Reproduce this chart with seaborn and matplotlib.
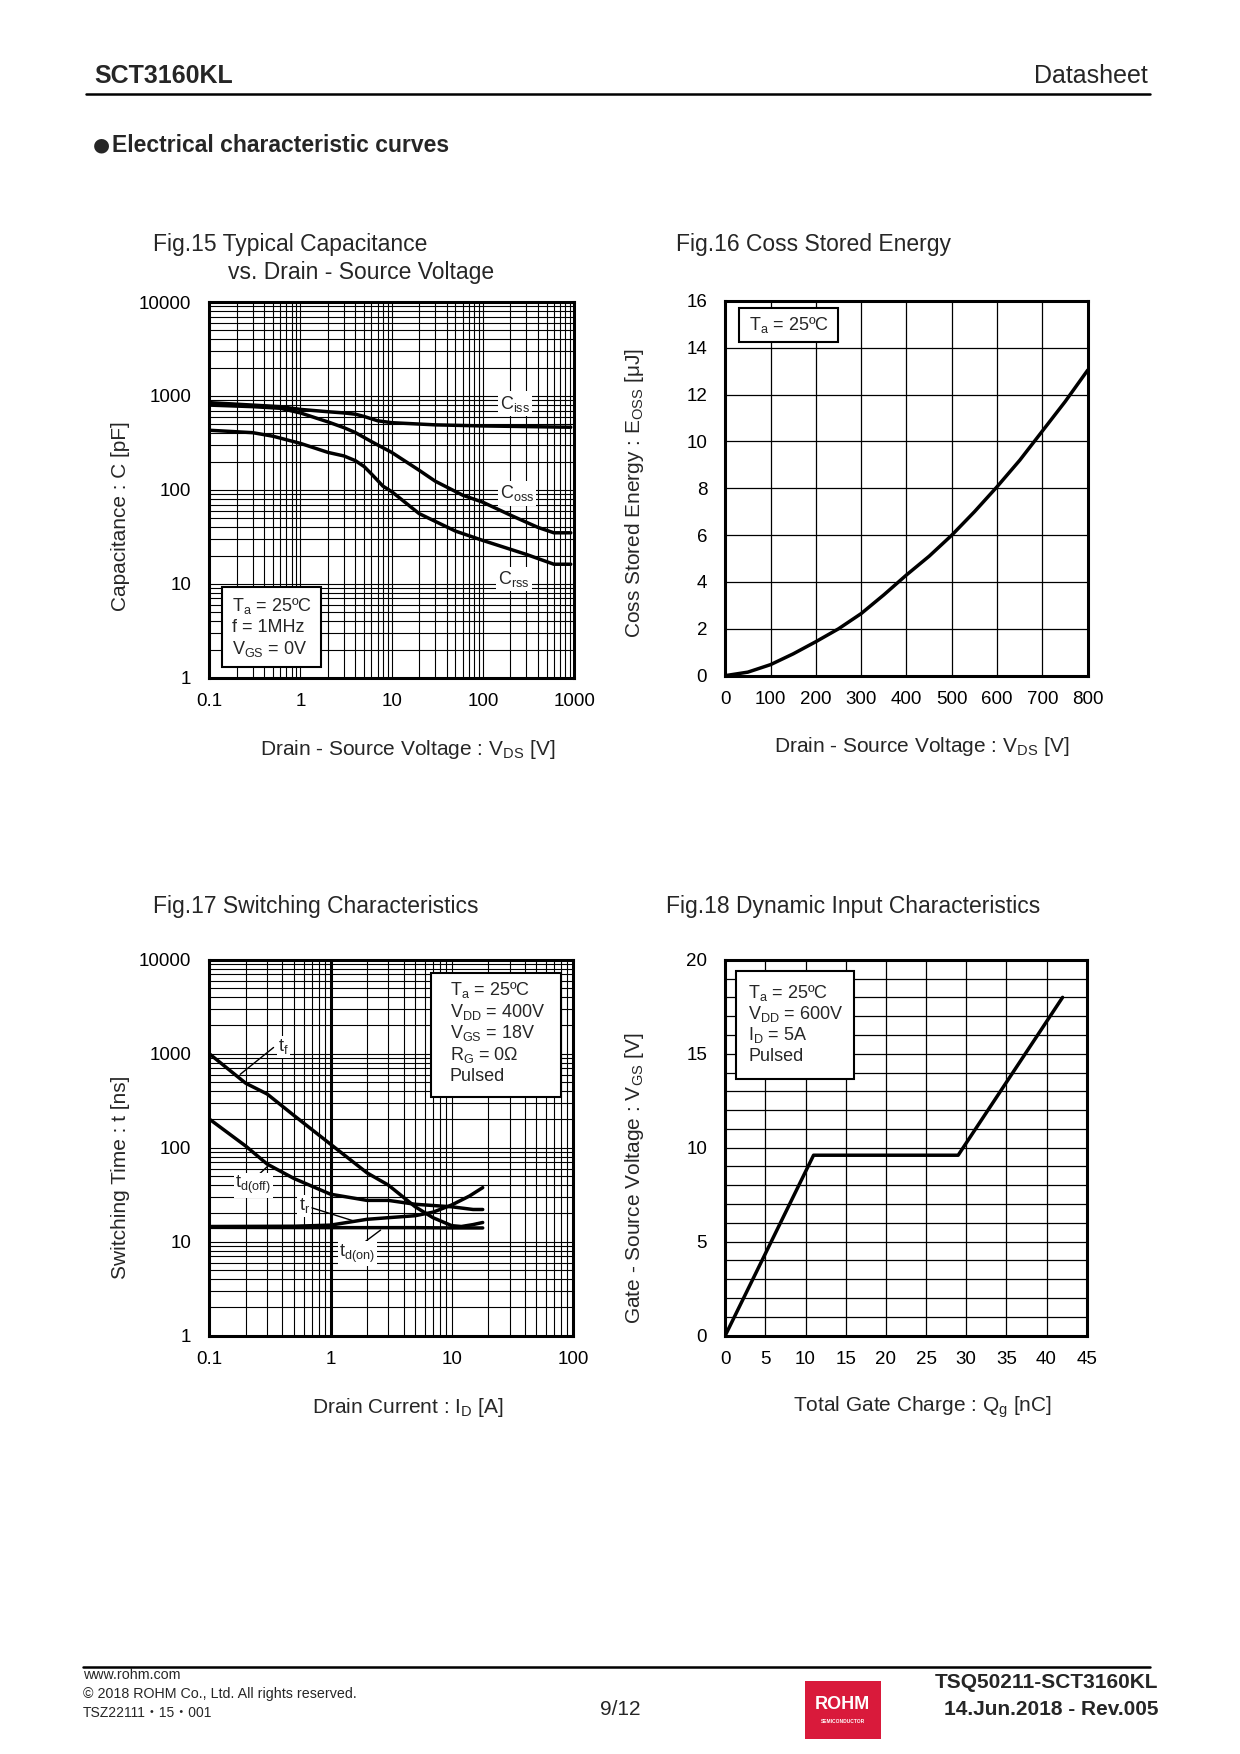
import numpy as np
import matplotlib
matplotlib.use("Agg")
import matplotlib.pyplot as plt
import seaborn as sns
from matplotlib.patches import Rectangle
from matplotlib.lines import Line2D
from matplotlib.ticker import FixedLocator, LogLocator, FuncFormatter, MultipleLocator, NullFormatter

### Data

# Fig.15 capacitance vs VDS
ciss_v = [0.1, 0.3, 0.6, 1, 2, 3, 4, 5, 7, 10, 30, 100, 920]
ciss_c = [850, 800, 770, 720, 680, 660, 640, 605, 545, 520, 493, 480, 465]
coss_v = [0.1, 0.3, 0.6, 1, 2, 3, 4, 6, 10, 20, 30, 60, 100, 200, 400, 600, 920]
coss_c = [800, 770, 740, 660, 530, 460, 408, 327, 251, 162, 124, 88, 74, 54, 40, 35, 35]
crss_v = [0.1, 0.3, 0.5, 1, 2, 3, 4, 5, 6, 8, 10, 20, 50, 100, 300, 600, 920]
crss_c = [432, 407, 373, 313, 251, 230, 205, 177, 148, 110, 96, 56, 36.5, 29, 20.6, 16.2, 16.2]

# Fig.16 Eoss vs VDS
eoss_v = [0, 50, 100, 150, 200, 250, 300, 350, 400, 450, 500, 550, 600, 650, 700, 750, 800]
eoss_uj = [0, 0.15, 0.47, 0.93, 1.45, 2.0, 2.65, 3.45, 4.3, 5.1, 6.0, 7.0, 8.07, 9.2, 10.45, 11.7, 13.05]

# Fig.17 switching times vs ID
tf_id = [0.1, 0.2, 0.3, 0.5, 1, 2, 3, 5, 7, 10, 12, 15, 18]
tf_ns = [1000, 485, 373, 220, 109, 54, 40, 23.5, 18, 14.8, 14.5, 15.2, 16]
tdoff_id = [0.1, 0.2, 0.3, 0.5, 1, 2, 3, 5, 10, 15, 18]
tdoff_ns = [202, 104, 67, 47, 32, 27.5, 27.5, 25, 23.5, 22, 22]
tr_id = [0.1, 0.5, 1, 2, 3, 5, 7, 10, 14, 18]
tr_ns = [14.5, 14.6, 15, 17.3, 18, 18.9, 20.6, 24.6, 30.6, 37.6]
tdon_id = [0.1, 1, 5, 10, 18]
tdon_ns = [14.2, 14.1, 14.1, 14.0, 14.0]

# Fig.18 gate charge
qg_nc = [0, 11, 29, 42]
vgs_v = [0, 9.6, 9.6, 18]

log_ticks_x15 = [0.1, 1, 10, 100, 1000]
log_ticks_y = [1, 10, 100, 1000, 10000]
log_ticks_x17 = [0.1, 1, 10, 100]


sns.set_theme(style="white")
plt.rcParams['font.family'] = ['Liberation Sans', 'DejaVu Sans', 'Noto Sans CJK JP']
plt.rcParams['mathtext.default'] = 'regular'

W, H = 1108.0, 1568.0   # page layout measured in these units


def fx(x):
    return x / W


def fy(y):
    return 1 - y / H


def rect(l, r, t, b):
    return [fx(l), fy(b), (r - l) / W, (b - t) / H]


fig = plt.figure(figsize=(12.4, 17.54), dpi=100)
fig.patch.set_facecolor('white')

TICK = 13.5
LAB = 15
BOX = 13


def style_axes(ax):
    for s in ax.spines.values():
        s.set_linewidth(2.2)
        s.set_color('black')
    ax.tick_params(which='both', length=0, labelsize=TICK, colors='black')
    ax.tick_params(axis='x', pad=11)
    ax.tick_params(axis='y', pad=13)
    ax.set_axisbelow(True)


def log_axes(ax, xticks):
    ax.set_xscale('log')
    ax.set_yscale('log')
    ax.set_xlim(xticks[0], xticks[-1])
    ax.set_ylim(1, 10000)
    ax.xaxis.set_major_locator(FixedLocator(xticks))
    ax.yaxis.set_major_locator(FixedLocator(log_ticks_y))
    ax.xaxis.set_minor_locator(LogLocator(base=10, subs=np.arange(2, 10), numticks=100))
    ax.yaxis.set_minor_locator(LogLocator(base=10, subs=np.arange(2, 10), numticks=100))
    fmt = FuncFormatter(lambda v, p: f"{v:g}")
    ax.xaxis.set_major_formatter(fmt)
    ax.yaxis.set_major_formatter(fmt)
    ax.xaxis.set_minor_formatter(NullFormatter())
    ax.yaxis.set_minor_formatter(NullFormatter())
    ax.grid(True, which='both', color='black', lw=0.8)
    style_axes(ax)


def cond_box(ax, x0, x1, y0, y1, lines, tx, ty, dy):
    ax.add_patch(Rectangle((x0, y0), x1 - x0, y1 - y0, transform=ax.transAxes,
                           facecolor='white', edgecolor='black', lw=1.5, zorder=5))
    for i, s in enumerate(lines):
        ax.text(tx, ty - i * dy, s, transform=ax.transAxes, fontsize=BOX,
                ha='left', va='center', zorder=6)


def set_labels(ax, xl, yl, xpos, ypos):
    ax.set_xlabel(xl, fontsize=LAB, va='center')
    ax.set_ylabel(yl, fontsize=LAB, va='center')
    ax.xaxis.set_label_coords(*xpos)
    ax.yaxis.set_label_coords(*ypos)


### Header
fig.text(fx(84), fy(68), "SCT3160KL", fontsize=18, fontweight='bold', ha='left', va='center')
fig.text(fx(1026), fy(68), "Datasheet", fontsize=18, ha='right', va='center')
fig.add_artist(Line2D([fx(77), fx(1028)], [fy(84), fy(84)], color='black', lw=1.8))
fig.text(fx(83), fy(130), "●", fontsize=14, family='DejaVu Sans', ha='left', va='center')
fig.text(fx(100), fy(130), "Electrical characteristic curves", fontsize=16.5,
         fontweight='bold', ha='left', va='center')

### Fig.15
ax15 = fig.add_axes(rect(187, 513, 270, 606))
log_axes(ax15, log_ticks_x15)
for xv, yv in [(ciss_v, ciss_c), (coss_v, coss_c), (crss_v, crss_c)]:
    sns.lineplot(x=xv, y=yv, ax=ax15, color='black', lw=2.5, zorder=4)
for s, (xv, yv) in [("C$_{iss}$", (225, 830)), ("C$_{oss}$", (237, 92)), ("C$_{rss}$", (219, 11.2))]:
    ax15.text(xv, yv, s, fontsize=BOX, ha='center', va='center', zorder=6,
              bbox=dict(facecolor='white', edgecolor='none', pad=1.5))
cond_box(ax15, 0.035, 0.305, 0.029, 0.243,
         ["T$_a$ = 25ºC", "f = 1MHz", "V$_{GS}$ = 0V"], 0.0625, 0.19, 0.056)
set_labels(ax15, "Drain - Source Voltage : V$_{DS}$ [V]", "Capacitance : C [pF]",
           (0.543, -0.19), (-0.242, 0.43))
fig.text(fx(137), fy(219), "Fig.15 Typical Capacitance", fontsize=16.5, ha='left', va='center')
fig.text(fx(204), fy(244), "vs. Drain - Source Voltage", fontsize=16.5, ha='left', va='center')

### Fig.16
ax16 = fig.add_axes(rect(648, 972, 269, 604))
sns.lineplot(x=eoss_v, y=eoss_uj, ax=ax16, color='black', lw=2.5, zorder=4)
ax16.set_xlim(0, 800)
ax16.set_ylim(0, 16)
ax16.xaxis.set_major_locator(MultipleLocator(100))
ax16.yaxis.set_major_locator(MultipleLocator(2))
ax16.grid(True, which='major', color='black', lw=0.9)
style_axes(ax16)
cond_box(ax16, 0.039, 0.311, 0.891, 0.981, ["T$_a$ = 25ºC"], 0.066, 0.935, 0)
set_labels(ax16, "Drain - Source Voltage : V$_{DS}$ [V]", "Coss Stored Energy : E$_{OSS}$ [μJ]",
           (0.543, -0.19), (-0.25, 0.487))
fig.text(fx(604), fy(219), "Fig.16 Coss Stored Energy", fontsize=16.5, ha='left', va='center')

### Fig.17
ax17 = fig.add_axes(rect(187, 512, 858, 1194))
log_axes(ax17, log_ticks_x17)
ax17.axvline(1, color='black', lw=2.2, zorder=1)
for xv, yv in [(tf_id, tf_ns), (tdoff_id, tdoff_ns), (tr_id, tr_ns), (tdon_id, tdon_ns)]:
    sns.lineplot(x=xv, y=yv, ax=ax17, color='black', lw=2.5, zorder=4)
# curve labels with leader lines
labels17 = [
    ("t$_f$", (0.41, 1185), [(0.339, 0.18), (1166, 604)]),
    ("t$_{d(off)}$", (0.231, 40), [(0.243, 0.308), (48.8, 64.6)]),
    ("t$_r$", (0.608, 24.2), [(0.703, 1.556), (22.9, 16.6)]),
    ("t$_{d(on)}$", (1.66, 7.5), [(1.77, 2.59), (9.2, 13.3)]),
]
for s, (lx, ly), (lxs, lys) in labels17:
    ax17.plot(lxs, lys, color='black', lw=1.0, zorder=5)
    ax17.text(lx, ly, s, fontsize=BOX, ha='center', va='center', zorder=6,
              bbox=dict(facecolor='white', edgecolor='none', pad=1.0))
cond_box(ax17, 0.609, 0.968, 0.636, 0.965,
         ["T$_a$ = 25ºC", "V$_{DD}$ = 400V", "V$_{GS}$ = 18V", "R$_G$ = 0Ω", "Pulsed"],
         0.661, 0.919, 0.0575)
set_labels(ax17, "Drain Current : I$_D$ [A]", "Switching Time : t [ns]",
           (0.545, -0.19), (-0.243, 0.42))
fig.text(fx(137), fy(810), "Fig.17 Switching Characteristics", fontsize=16.5, ha='left', va='center')

### Fig.18
ax18 = fig.add_axes(rect(648, 971, 858, 1194))
sns.lineplot(x=qg_nc, y=vgs_v, ax=ax18, color='black', lw=2.5, zorder=4)
ax18.set_xlim(0, 45)
ax18.set_ylim(0, 20)
ax18.xaxis.set_major_locator(MultipleLocator(5))
ax18.yaxis.set_major_locator(MultipleLocator(5))
ax18.yaxis.set_minor_locator(MultipleLocator(1))
ax18.grid(True, which='both', color='black', lw=0.9)
style_axes(ax18)
cond_box(ax18, 0.0295, 0.355, 0.684, 0.969,
         ["T$_a$ = 25ºC", "V$_{DD}$ = 600V", "I$_D$ = 5A", "Pulsed"], 0.064, 0.912, 0.0565)
set_labels(ax18, "Total Gate Charge : Q$_g$ [nC]", "Gate - Source Voltage : V$_{GS}$ [V]",
           (0.545, -0.19), (-0.25, 0.42))
fig.text(fx(595), fy(810), "Fig.18 Dynamic Input Characteristics", fontsize=16.5, ha='left', va='center')

### Footer
fig.add_artist(Line2D([fx(74), fx(1028)], [fy(1490), fy(1490)], color='black', lw=1.8))
fig.text(fx(74), fy(1497), "www.rohm.com", fontsize=10.3, ha='left', va='center')
fig.text(fx(74), fy(1514), "© 2018 ROHM Co., Ltd. All rights reserved.", fontsize=10.3, ha='left', va='center')
fig.text(fx(74), fy(1531), "TSZ22111・15・001", fontsize=10, ha='left', va='center')
fig.text(fx(554), fy(1528), "9/12", fontsize=15, ha='center', va='center')
fig.patches.append(Rectangle((fx(719), fy(1555)), (787 - 719) / W, (1555 - 1503) / H,
                             transform=fig.transFigure, facecolor='#d91a3b', edgecolor='none'))
fig.text(fx(753), fy(1524), "ROHM", fontsize=13, fontweight='bold', color='white', ha='center', va='center')
fig.text(fx(753), fy(1539), "SEMICONDUCTOR", fontsize=3.5, fontweight='bold', color='white',
         ha='center', va='center')
fig.text(fx(1035), fy(1504), "TSQ50211-SCT3160KL", fontsize=15, fontweight='bold', ha='right', va='center')
fig.text(fx(1035), fy(1528), "14.Jun.2018 - Rev.005", fontsize=15, fontweight='bold', ha='right', va='center')

fig.savefig("out.png", dpi=100)
